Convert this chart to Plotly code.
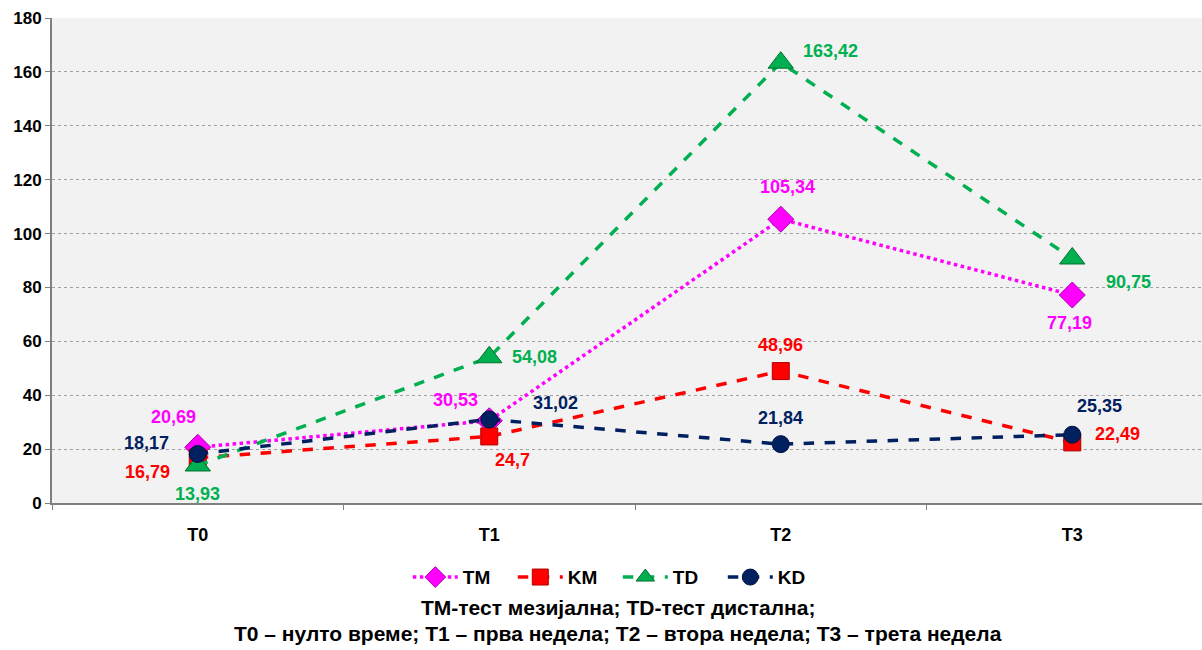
import plotly.graph_objects as go

# Time points and measured values per series
categories = ["T0", "T1", "T2", "T3"]
tm_values = [20.69, 30.53, 105.34, 77.19]
km_values = [16.79, 24.7, 48.96, 22.49]
td_values = [13.93, 54.08, 163.42, 90.75]
kd_values = [18.17, 31.02, 21.84, 25.35]

y_ticks = [0, 20, 40, 60, 80, 100, 120, 140, 160, 180]

caption_line1 = "TM-тест мезијална; TD-тест дистална;"
caption_line2 = "T0 – нулто време; T1 – прва недела; T2 – втора недела; T3 – трета недела"

FONT = "Liberation Sans, Arial, sans-serif"
x_pos = list(range(len(categories)))

series = [
    dict(name="TM", y=tm_values, color="#FF00FF", dash="dot", symbol="diamond", size=20,
         line_color="#B000B0",
         # label offsets (px) relative to each point
         offsets=[(-24, 30), (-34, 21), (7, 32), (-3, -28)]),
    dict(name="KM", y=km_values, color="#FF0000", dash="dash", symbol="square", size=17,
         line_color="#B00000",
         offsets=[(-50, -14), (23, -24), (0, 26), (45, 8)]),
    dict(name="TD", y=td_values, color="#00B050", dash="dash", symbol="triangle-up", size=22,
         line_color="#007030",
         offsets=[(0, -29), (45, 0), (50, 12), (56, -24)]),
    dict(name="KD", y=kd_values, color="#002060", dash="dash", symbol="circle", size=17,
         line_color="#001040",
         offsets=[(-51, 11), (66, 16), (0, 26), (27, 29)]),
]

fig = go.Figure()
annotations = []
for s in series:
    fig.add_trace(go.Scatter(
        x=x_pos, y=s["y"], name=s["name"], mode="lines+markers",
        line=dict(color=s["color"], width=3.5, dash=s["dash"]),
        marker=dict(symbol=s["symbol"], size=s["size"], color=s["color"],
                    line=dict(color=s["line_color"], width=1)),
    ))
    for xi, yi, (dx, dy) in zip(x_pos, s["y"], s["offsets"]):
        annotations.append(dict(
            x=xi, y=yi, xref="x", yref="y",
            text=f"{yi:g}".replace(".", ","),
            showarrow=False, xshift=dx, yshift=dy,
            font=dict(family=FONT, size=18, color=s["color"], weight="bold"),
        ))

annotations.append(dict(
    x=0.492, y=-0.216, xref="paper", yref="paper", text=caption_line1,
    showarrow=False, font=dict(family=FONT, size=21, color="#000000", weight="bold"),
    xanchor="center", yanchor="middle"))
annotations.append(dict(
    x=0.492, y=-0.27, xref="paper", yref="paper", text=caption_line2,
    showarrow=False, font=dict(family=FONT, size=21, color="#000000", weight="bold"),
    xanchor="center", yanchor="middle"))

fig.update_layout(
    width=1202, height=650,
    margin=dict(l=52, r=0, t=18, b=147),
    paper_bgcolor="#FFFFFF", plot_bgcolor="#F2F2F2",
    font=dict(family=FONT, size=15, color="#000000"),
    showlegend=True,
    legend=dict(orientation="h", x=0.492, xanchor="center", y=-0.153, yanchor="middle",
                font=dict(family=FONT, size=19, color="#000000", weight="bold"),
                itemwidth=45, entrywidth=45, bgcolor="rgba(0,0,0,0)"),
    annotations=annotations,
)

fig.update_xaxes(
    range=[-0.5, 3.445],
    tickmode="array", tickvals=x_pos, ticktext=categories,
    ticks="", tickfont=dict(family=FONT, size=18, color="#000000", weight="bold"),
    ticklabelstandoff=14,
    showgrid=False, zeroline=False,
    showline=True, linecolor="#808080", linewidth=2,
    minor=dict(tickmode="array", tickvals=[-0.5, 0.5, 1.5, 2.5], ticks="outside",
               ticklen=5, tickcolor="#808080", tickwidth=1, showgrid=False),
)
fig.update_yaxes(
    range=[0, 180], tickmode="array", tickvals=y_ticks,
    ticks="outside", ticklen=5, tickcolor="#808080", tickwidth=1,
    tickfont=dict(family=FONT, size=17, color="#000000", weight="bold"),
    showgrid=True, gridcolor="#A0A0A0", gridwidth=1, griddash="dot",
    zeroline=False, showline=True, linecolor="#808080", linewidth=2,
)

fig.write_html("out.html")
